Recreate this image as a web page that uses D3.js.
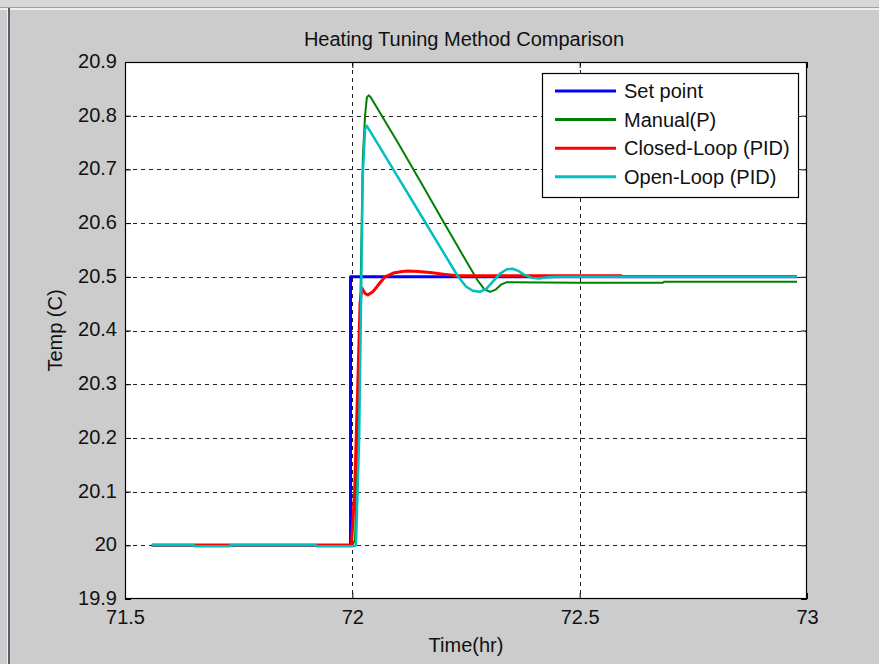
<!DOCTYPE html>
<html lang="en">
<head>
  <meta charset="UTF-8">
  <title>Heating Tuning Method Comparison</title>
  <style>
    body { margin: 0; background: #cccccc; }
    svg { display: block; }
    text { font-family: "Liberation Sans", Arial, sans-serif; fill: #111; }
  </style>
</head>
<body>
  <svg id="chart" width="879" height="664"></svg>

  <script src="https://cdn.jsdelivr.net/npm/d3@7"></script>
  <script type="text/javascript">

    // values: [time (hr), temp (C)]
    var setPoint = [[71.559, 20], [71.996, 20], [71.996, 20.5], [72.978, 20.5]];

    var manualP = [[71.559, 20], [72.0, 20], [72.006, 20.01], [72.012, 20.2], [72.017, 20.42],
      [72.021, 20.62], [72.023, 20.72], [72.028, 20.8], [72.032, 20.834], [72.036, 20.838],
      [72.04, 20.835], [72.045, 20.828], [72.1, 20.75], [72.15, 20.677], [72.2, 20.603],
      [72.25, 20.53], [72.275, 20.494], [72.29, 20.477], [72.303, 20.472], [72.315, 20.476],
      [72.328, 20.486], [72.34, 20.49], [72.5, 20.489], [72.683, 20.489], [72.686, 20.491],
      [72.978, 20.491]];

    var closedLoop = [[71.559, 20], [71.998, 20], [72.005, 20.1], [72.012, 20.3], [72.017, 20.45],
      [72.021, 20.479], [72.028, 20.469], [72.034, 20.466], [72.045, 20.472], [72.06, 20.488],
      [72.072, 20.5], [72.09, 20.507], [72.11, 20.51], [72.122, 20.511], [72.145, 20.51],
      [72.171, 20.508], [72.2, 20.505], [72.23, 20.502], [72.3, 20.502], [72.45, 20.502],
      [72.593, 20.502]];

    var openLoop = [[71.559, 20], [71.652, 20], [71.653, 19.998], [71.73, 19.998], [71.731, 20],
      [71.92, 20], [71.921, 19.998], [72.0, 19.998], [72.008, 20], [72.015, 20.2],
      [72.019, 20.44], [72.023, 20.69], [72.028, 20.775], [72.032, 20.781], [72.04, 20.77],
      [72.1, 20.686], [72.15, 20.616], [72.2, 20.546], [72.232, 20.501], [72.25, 20.482],
      [72.265, 20.474], [72.28, 20.472], [72.295, 20.478], [72.31, 20.492], [72.325, 20.506],
      [72.34, 20.514], [72.352, 20.515], [72.365, 20.511], [72.38, 20.503], [72.395, 20.498],
      [72.41, 20.497], [72.43, 20.499], [72.45, 20.5], [72.978, 20.5]];

    var seriesNames = ["Set point", "Manual(P)", "Closed-Loop (PID)", "Open-Loop (PID)"];
    var seriesColors = ["#0000ff", "#008000", "#ff0000", "#00bfbf"];
    var xTicks = [71.5, 72, 72.5, 73];
    var yTicks = [19.9, 20, 20.1, 20.2, 20.3, 20.4, 20.5, 20.6, 20.7, 20.8, 20.9];

    var svg = d3.select("#chart"),
      width = +svg.attr("width"),
      height = +svg.attr("height"),
      margin = {top: 62, right: 72, bottom: 65, left: 125},
      x = d3.scaleLinear().domain([71.5, 73]).range([margin.left, width - margin.right]),
      y = d3.scaleLinear().domain([19.9, 20.9]).range([height - margin.bottom, margin.top]);

    // window frame
    svg.append("rect").attr("x", 0).attr("y", 0).attr("width", width).attr("height", 7).attr("fill", "#d8d8d8");
    svg.append("rect").attr("x", 0).attr("y", 7).attr("width", width).attr("height", 1).attr("fill", "#a0a0a0");
    svg.append("rect").attr("x", 0).attr("y", 8).attr("width", width).attr("height", 2).attr("fill", "#f0f0f0");
    svg.append("rect").attr("x", 7).attr("y", 8).attr("width", 1).attr("height", height).attr("fill", "#f0f0f0");
    svg.append("rect").attr("x", 8).attr("y", 8).attr("width", 2).attr("height", height).attr("fill", "#55606c");

    // plot area
    svg.append("rect")
      .attr("x", x.range()[0]).attr("y", y.range()[1])
      .attr("width", x.range()[1] - x.range()[0])
      .attr("height", y.range()[0] - y.range()[1])
      .attr("fill", "#fff");

    svg.append("clipPath").attr("id", "clip")
      .append("rect")
      .attr("x", x.range()[0]).attr("y", y.range()[1])
      .attr("width", x.range()[1] - x.range()[0])
      .attr("height", y.range()[0] - y.range()[1]);

    // dashed grid
    var grid = svg.append("g").attr("stroke", "#222").attr("stroke-width", 1).attr("stroke-dasharray", "4,4");
    grid.selectAll(".gx").data(xTicks.slice(1, -1)).enter().append("line")
      .attr("x1", function (d) { return Math.round(x(d)) + 0.5; })
      .attr("x2", function (d) { return Math.round(x(d)) + 0.5; })
      .attr("y1", y.range()[1]).attr("y2", y.range()[0]);
    grid.selectAll(".gy").data(yTicks.slice(1, -1)).enter().append("line")
      .attr("y1", function (d) { return Math.round(y(d)) + 0.5; })
      .attr("y2", function (d) { return Math.round(y(d)) + 0.5; })
      .attr("x1", x.range()[0]).attr("x2", x.range()[1]);

    // series
    var line = d3.line()
      .x(function (d) { return x(d[0]); })
      .y(function (d) { return y(d[1]); });
    var allSeries = [setPoint, manualP, closedLoop, openLoop];
    var widths = [3, 2, 3, 2.5];

    svg.append("g").attr("clip-path", "url(#clip)")
      .selectAll("path").data(allSeries).enter().append("path")
      .attr("d", line)
      .attr("fill", "none")
      .attr("stroke", function (d, i) { return seriesColors[i]; })
      .attr("stroke-width", function (d, i) { return widths[i]; })
      .attr("stroke-linejoin", "round");

    // axes, ticks pointing inwards like matlab
    var fmt = function (d) { return d3.format("")(+d.toFixed(1)); };
    var axBottom = svg.append("g").attr("transform", "translate(0," + y.range()[0] + ")")
      .call(d3.axisBottom(x).tickValues(xTicks).tickFormat(fmt).tickSizeInner(-6).tickSizeOuter(0).tickPadding(11));
    var axLeft = svg.append("g").attr("transform", "translate(" + x.range()[0] + ",0)")
      .call(d3.axisLeft(y).tickValues(yTicks).tickFormat(fmt).tickSizeInner(-6).tickSizeOuter(0).tickPadding(8));
    var axTop = svg.append("g").attr("transform", "translate(0," + y.range()[1] + ")")
      .call(d3.axisTop(x).tickValues(xTicks).tickFormat("").tickSizeInner(-6).tickSizeOuter(0));
    var axRight = svg.append("g").attr("transform", "translate(" + x.range()[1] + ",0)")
      .call(d3.axisRight(y).tickValues(yTicks).tickFormat("").tickSizeInner(-6).tickSizeOuter(0));

    [axBottom, axLeft, axTop, axRight].forEach(function (g) {
      g.select(".domain").remove();
      g.selectAll("line").attr("stroke", "#000");
      g.selectAll("text").attr("font-size", 20).attr("font-family", null).attr("fill", "#111");
    });
    axLeft.selectAll("text").attr("dy", "0.27em");

    svg.append("rect")
      .attr("x", x.range()[0] + 0.5).attr("y", y.range()[1] + 0.5)
      .attr("width", x.range()[1] - x.range()[0] - 1)
      .attr("height", y.range()[0] - y.range()[1] - 1)
      .attr("fill", "none").attr("stroke", "#000").attr("stroke-width", 1.2);

    // labels
    svg.append("text").attr("x", (x.range()[0] + x.range()[1]) / 2 - 2).attr("y", 46)
      .attr("text-anchor", "middle").attr("font-size", 20).text("Heating Tuning Method Comparison");
    svg.append("text").attr("x", (x.range()[0] + x.range()[1]) / 2).attr("y", 652)
      .attr("text-anchor", "middle").attr("font-size", 20).text("Time(hr)");
    svg.append("text")
      .attr("transform", "translate(62," + (y.range()[0] + y.range()[1]) / 2 + ") rotate(-90)")
      .attr("text-anchor", "middle").attr("font-size", 20).text("Temp (C)");

    // legend
    var legend = svg.append("g").attr("transform", "translate(542,73)");
    legend.append("rect").attr("x", 0.5).attr("y", 0.5).attr("width", 256).attr("height", 124)
      .attr("fill", "#fff").attr("stroke", "#000").attr("stroke-width", 1.2);
    var item = legend.selectAll(".item").data(seriesNames).enter().append("g")
      .attr("transform", function (d, i) { return "translate(0," + (18 + i * 28.6) + ")"; });
    item.append("line").attr("x1", 13).attr("x2", 74).attr("y1", 0).attr("y2", 0)
      .attr("stroke", function (d, i) { return seriesColors[i]; }).attr("stroke-width", 3);
    item.append("text").attr("x", 82).attr("y", 0).attr("dy", "0.36em")
      .attr("font-size", 20).text(function (d) { return d; });

  </script>
</body>
</html>
